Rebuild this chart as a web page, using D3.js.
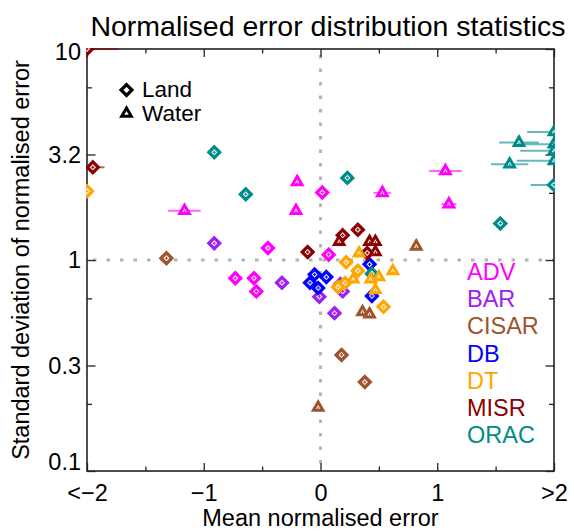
<!DOCTYPE html>
<html>
<head>
<meta charset="utf-8">
<script src="https://cdn.jsdelivr.net/npm/d3@7"></script>
<style>
  body { margin: 0; background: #fff; }
  svg { display: block; font-family: "Liberation Sans", Arial, Helvetica, sans-serif; }
</style>
</head>
<body>
<svg id="chart" width="574" height="531"></svg>
<script>
// ---- Data: mean normalised error (x), std. dev. of normalised error (y), x error half-width ----
const seriesNames  = ["ADV", "BAR", "CISAR", "DB", "DT", "MISR", "ORAC"];
const seriesColors = ["#ff00ff", "#a020f0", "#a0522d", "#0000ff", "#ffa500", "#8b0000", "#008b8b"];

const advLandX   = [-0.45, 0.07, 0.015, -0.73, -0.57, -0.55];
const advLandY   = [1.14, 1.06, 2.09, 0.82, 0.82, 0.71];
const advLandE   = [0.02, 0.02, 0.02, 0.02, 0.02, 0.02];
const advWaterX  = [-1.165, -0.20, -0.21, 0.53, 1.07, 1.10];
const advWaterY  = [1.71, 2.34, 1.71, 2.08, 2.64, 1.84];
const advWaterE  = [0.14, 0.02, 0.02, 0.075, 0.14, 0.065];

const barLandX   = [-0.91, -0.33, -0.01, 0.12, 0.17, 0.19];
const barLandY   = [1.20, 0.78, 0.67, 0.56, 0.77, 0.71];
const barLandE   = [0.02, 0.02, 0.02, 0.02, 0.02, 0.02];
const barWaterX  = [];
const barWaterY  = [];
const barWaterE  = [];

const cisarLandX  = [-1.32, 0.18, 0.38];
const cisarLandY  = [1.02, 0.355, 0.264];
const cisarLandE  = [0.02, 0.02, 0.02];
const cisarWaterX = [0.82, 0.36, 0.42, -0.02];
const cisarWaterY = [1.16, 0.567, 0.553, 0.20];
const cisarWaterE = [0.02, 0.02, 0.02, 0.02];

const dbLandX    = [-0.05, 0.05, -0.09, -0.02, 0.42, 0.44];
const dbLandY    = [0.854, 0.83, 0.78, 0.737, 0.954, 0.675];
const dbLandE    = [0.02, 0.02, 0.02, 0.02, 0.02, 0.02];
const dbWaterX   = [];
const dbWaterY   = [];
const dbWaterE   = [];

const dtLandX    = [-2, 0.22, 0.32, 0.21, 0.15, 0.54];
const dtLandY    = [2.12, 0.975, 0.89, 0.778, 0.745, 0.60];
const dtLandE    = [0.02, 0.02, 0.02, 0.02, 0.02, 0.02];
const dtWaterX   = [0.33, 0.62, 0.50, 0.28, 0.43, 0.47];
const dtWaterY   = [1.076, 0.887, 0.83, 0.81, 0.81, 0.72];
const dtWaterE   = [0.02, 0.02, 0.02, 0.02, 0.02, 0.02];

const misrLandX  = [-2, -1.95, -0.11, 0.19, 0.32, 0.40];
const misrLandY  = [10, 2.75, 1.09, 1.31, 1.39, 1.08];
const misrLandE  = [0.27, 0.10, 0.02, 0.02, 0.02, 0.02];
const misrWaterX = [0.16, 0.42, 0.47, 0.47];
const misrWaterY = [1.22, 1.22, 1.22, 1.09];
const misrWaterE = [0.02, 0.02, 0.02, 0.02];

const oracLandX  = [-0.91, -0.64, 0.23, 1.54, 0.44, 2];
const oracLandY  = [3.24, 2.05, 2.45, 1.49, 0.86, 2.27];
const oracLandE  = [0.02, 0.02, 0.02, 0.06, 0.02, 0.20];
const oracWaterX = [1.70, 1.62, 2, 2, 2, 2];
const oracWaterY = [3.60, 2.84, 4.04, 3.54, 3.29, 2.95];
const oracWaterE = [0.17, 0.16, 0.23, 0.29, 0.29, 0.32];

// ---- Axis ticks ----
const xMajorTicks  = [-2, -1, 0, 1, 2];
const xTickLabels  = ["<\u22122", "\u22121", "0", "1", ">2"];
const xMinorTicks  = [-1.5, -0.5, 0.5, 1.5];
const yMajorTicks  = [0.1, 0.3162, 1, 3.162, 10];
const yTickLabels  = ["0.1", "0.3", "1", "3.2", "10"];
const yMinorTicks  = [0.208, 0.658, 2.08, 6.58];

(function draw() {
  const svg = d3.select("#chart");
  const pL = 87, pR = 554, pT = 49, pB = 471;
  const fontSize = 23.5;

  const x = d3.scaleLinear().domain([-2, 2]).range([pL, pR]);
  const y = d3.scaleLog().domain([0.1, 10]).range([pB, pT]);

  const landSets = [
    [advLandX, advLandY, advLandE], [barLandX, barLandY, barLandE], [cisarLandX, cisarLandY, cisarLandE],
    [dbLandX, dbLandY, dbLandE], [dtLandX, dtLandY, dtLandE], [misrLandX, misrLandY, misrLandE],
    [oracLandX, oracLandY, oracLandE]
  ];
  const waterSets = [
    [advWaterX, advWaterY, advWaterE], [barWaterX, barWaterY, barWaterE], [cisarWaterX, cisarWaterY, cisarWaterE],
    [dbWaterX, dbWaterY, dbWaterE], [dtWaterX, dtWaterY, dtWaterE], [misrWaterX, misrWaterY, misrWaterE],
    [oracWaterX, oracWaterY, oracWaterE]
  ];

  function toPoints(sets, kind) {
    const pts = [];
    sets.forEach(([xs, ys, es], si) => {
      xs.forEach((v, i) => pts.push({ x: v, y: ys[i], e: es[i], color: seriesColors[si], kind }));
    });
    return pts;
  }
  // land markers are drawn first, water markers on top
  const points = toPoints(landSets, "land").concat(toPoints(waterSets, "water"));

  // marker shapes
  const dR = 5.4;
  const diamondPath = `M0,${-dR}L${dR},0L0,${dR}L${-dR},0Z`;
  const tS = 9.6;
  const triPath = `M0,${-tS / Math.sqrt(3)}L${tS / 2},${tS / (2 * Math.sqrt(3))}L${-tS / 2},${tS / (2 * Math.sqrt(3))}Z`;

  const axisColor = "#222";
  function styleAxis(g) {
    g.select(".domain").remove();
    g.selectAll("line").attr("stroke", axisColor).attr("stroke-width", 1.3);
    g.selectAll("text").attr("fill", "#000").attr("font-size", fontSize)
      .attr("font-family", '"Liberation Sans", Arial, Helvetica, sans-serif');
  }

  // clip region for plot marks (includes the frame line itself)
  svg.append("defs").append("clipPath").attr("id", "plotClip")
    .append("rect").attr("x", pL - 1).attr("y", pT - 1)
    .attr("width", pR - pL + 2).attr("height", pB - pT + 2);

  // reference lines (x = 0, y = 1)
  const refG = svg.append("g").attr("clip-path", "url(#plotClip)");
  refG.append("line")
    .attr("x1", x(0)).attr("x2", x(0)).attr("y1", pT + 6).attr("y2", pB)
    .attr("stroke", "#b4b4b4").attr("stroke-width", 3).attr("stroke-dasharray", "3.5,10");
  refG.append("line")
    .attr("x1", pL + 6).attr("x2", pR).attr("y1", y(1)).attr("y2", y(1))
    .attr("stroke", "#b4b4b4").attr("stroke-width", 3).attr("stroke-dasharray", "3.5,10");

  // frame and axes (ticks inward on all four sides)
  svg.append("rect")
    .attr("x", pL).attr("y", pT).attr("width", pR - pL).attr("height", pB - pT)
    .attr("fill", "none").attr("stroke", axisColor).attr("stroke-width", 1.6);

  svg.append("g").attr("transform", `translate(0,${pB})`)
    .call(d3.axisBottom(x).tickValues(xMajorTicks).tickSize(-8).tickPadding(13)
      .tickFormat((d, i) => xTickLabels[i]))
    .call(styleAxis);
  svg.append("g").attr("transform", `translate(0,${pB})`)
    .call(d3.axisBottom(x).tickValues(xMinorTicks).tickSize(-4.5).tickFormat(""))
    .call(styleAxis);
  svg.append("g").attr("transform", `translate(0,${pT})`)
    .call(d3.axisTop(x).tickValues(xMajorTicks).tickSize(-8).tickFormat(""))
    .call(styleAxis);
  svg.append("g").attr("transform", `translate(0,${pT})`)
    .call(d3.axisTop(x).tickValues(xMinorTicks).tickSize(-4.5).tickFormat(""))
    .call(styleAxis);

  const leftAxis = svg.append("g").attr("transform", `translate(${pL},0)`)
    .call(d3.axisLeft(y).tickValues(yMajorTicks).tickSize(-8.5).tickPadding(6)
      .tickFormat((d, i) => yTickLabels[i]))
    .call(styleAxis);
  // keep end labels inside the frame height
  leftAxis.selectAll(".tick").each(function (d) {
    const py = y(d);
    const shift = Math.min(Math.max(py, pT + 3), pB - 9) - py;
    d3.select(this).select("text").attr("y", shift);
  });
  svg.append("g").attr("transform", `translate(${pL},0)`)
    .call(d3.axisLeft(y).tickValues(yMinorTicks).tickSize(-5).tickFormat(""))
    .call(styleAxis);
  svg.append("g").attr("transform", `translate(${pR},0)`)
    .call(d3.axisRight(y).tickValues(yMajorTicks).tickSize(-8.5).tickFormat(""))
    .call(styleAxis);
  svg.append("g").attr("transform", `translate(${pR},0)`)
    .call(d3.axisRight(y).tickValues(yMinorTicks).tickSize(-5).tickFormat(""))
    .call(styleAxis);

  // marks, drawn over the frame
  const markG = svg.append("g").attr("clip-path", "url(#plotClip)");
  const ptG = markG.selectAll("g.pt").data(points).enter().append("g")
    .attr("class", "pt")
    .attr("transform", d => `translate(${x(d.x)},${y(d.y)})`);

  // horizontal error bars
  ptG.append("line")
    .attr("x1", d => x(d.x - d.e) - x(d.x)).attr("x2", d => x(d.x + d.e) - x(d.x))
    .attr("y1", 0).attr("y2", 0)
    .attr("stroke", d => d.color).attr("stroke-opacity", 0.6).attr("stroke-width", 2);

  // marker outline
  ptG.append("path")
    .attr("d", d => d.kind === "land" ? diamondPath : triPath)
    .attr("fill", "#fff")
    .attr("stroke", d => d.color)
    .attr("stroke-width", d => d.kind === "land" ? 3.3 : 3)
    .attr("stroke-linejoin", "miter");

  // small centre cross
  ptG.append("path")
    .attr("d", d => d.kind === "land" ? "M-1.6,0H1.6M0,-1.6V1.6" : "M0,-0.6V2")
    .attr("stroke", d => d.color).attr("stroke-width", 1.1).attr("fill", "none");

  // titles
  svg.append("text")
    .attr("x", 328).attr("y", 36).attr("text-anchor", "middle")
    .attr("font-size", 28.5).text("Normalised error distribution statistics");

  svg.append("text")
    .attr("x", x(0)).attr("y", 525.5).attr("text-anchor", "middle")
    .attr("font-size", fontSize).text("Mean normalised error");

  svg.append("text")
    .attr("transform", `translate(28.5,${(pT + pB) / 2}) rotate(-90)`)
    .attr("text-anchor", "middle")
    .attr("font-size", fontSize).text("Standard deviation of normalised error");

  // surface-type legend
  const symLegend = [["Land", diamondPath, 90, 96.5, 3.3], ["Water", triPath, 113.5, 120.5, 3]];
  symLegend.forEach(([label, path, my, ty, sw]) => {
    svg.append("path").attr("d", path)
      .attr("transform", `translate(126.5,${my})`)
      .attr("fill", "#fff").attr("stroke", "#000").attr("stroke-width", sw);
    svg.append("text").attr("x", 142).attr("y", ty)
      .attr("font-size", 22.5).text(label);
  });

  // dataset legend
  svg.append("g").selectAll("text").data(seriesNames).enter().append("text")
    .attr("x", 467)
    .attr("y", (d, i) => 280.2 + i * 27.1)
    .attr("font-size", fontSize)
    .attr("fill", (d, i) => seriesColors[i])
    .text(d => d);
})();
</script>
</body>
</html>
